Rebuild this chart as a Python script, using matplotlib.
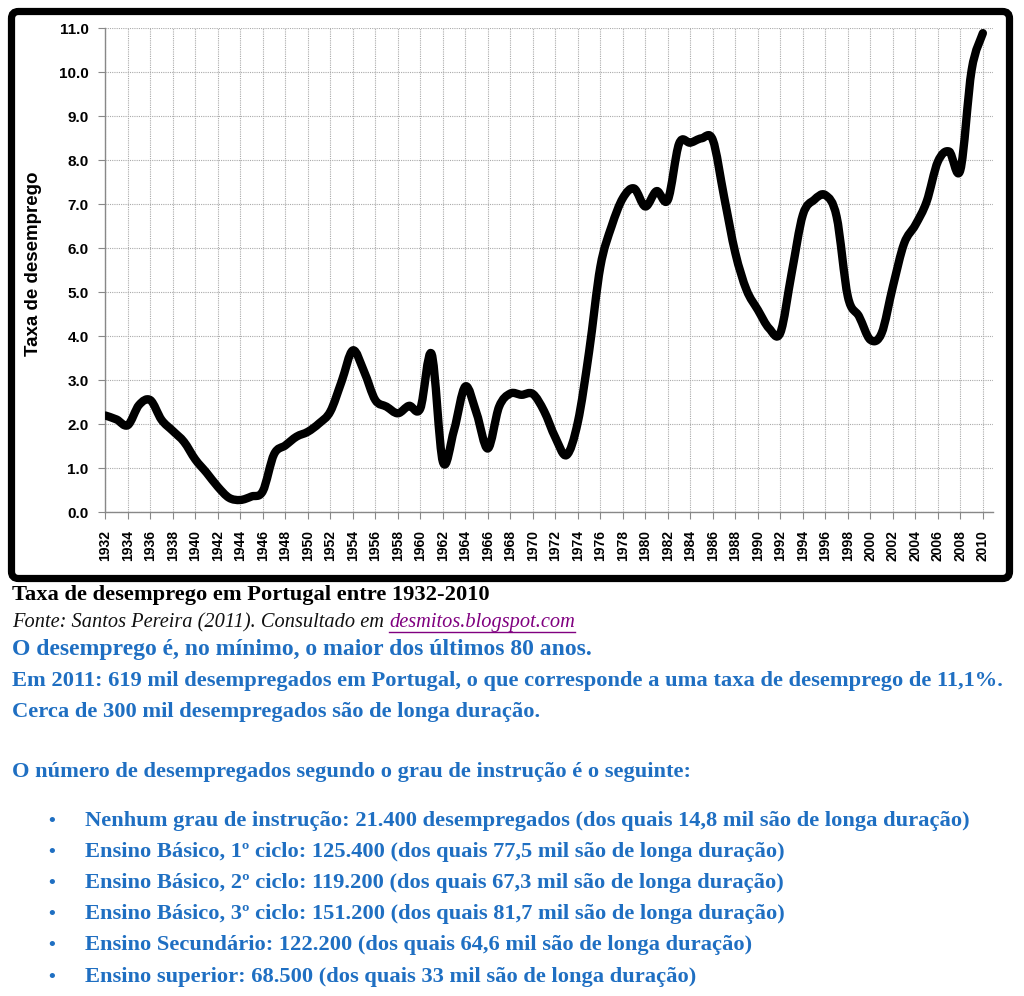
import numpy as np
import matplotlib
matplotlib.use("Agg")
import matplotlib.pyplot as plt
from matplotlib.patches import FancyBboxPatch, PathPatch
from matplotlib.path import Path
from matplotlib.lines import Line2D

# data (taxa de desemprego, %)
years = np.arange(1932, 2011)
taxa = [2.20, 2.11, 1.98, 2.44, 2.55, 2.10, 1.85, 1.60, 1.20, 0.90,
        0.58, 0.33, 0.28, 0.36, 0.48, 1.32, 1.52, 1.72, 1.83, 2.02,
        2.29, 2.97, 3.68, 3.20, 2.55, 2.40, 2.25, 2.42, 2.36, 3.60,
        1.15, 1.87, 2.86, 2.25, 1.45, 2.40, 2.70, 2.67, 2.69, 2.30,
        1.70, 1.30, 2.05, 3.65, 5.58, 6.50, 7.14, 7.36, 6.95, 7.30,
        7.10, 8.38, 8.40, 8.50, 8.46, 7.17, 5.89, 5.05, 4.60, 4.18,
        4.08, 5.43, 6.76, 7.10, 7.21, 6.72, 4.90, 4.45, 3.92, 4.07,
        5.13, 6.11, 6.53, 7.06, 7.97, 8.20, 7.78, 10.05, 10.89]
xticks = np.arange(1932, 2011, 2)
yticks = np.arange(0, 12, 1)

titulo = "Taxa de desemprego em Portugal entre 1932-2010"
fonte = "Fonte: Santos Pereira (2011). Consultado em "
link = "desmitos.blogspot.com"
linhas_azuis = ["O desemprego é, no mínimo, o maior dos últimos 80 anos.",
                "Em 2011: 619 mil desempregados em Portugal, o que corresponde a uma taxa de desemprego de 11,1%.",
                "Cerca de 300 mil desempregados são de longa duração."]
intro = "O número de desempregados segundo o grau de instrução é o seguinte:"
itens = ["Nenhum grau de instrução: 21.400 desempregados (dos quais 14,8 mil são de longa duração)",
         "Ensino Básico, 1º ciclo: 125.400 (dos quais 77,5 mil são de longa duração)",
         "Ensino Básico, 2º ciclo: 119.200 (dos quais 67,3 mil são de longa duração)",
         "Ensino Básico, 3º ciclo: 151.200 (dos quais 81,7 mil são de longa duração)",
         "Ensino Secundário: 122.200 (dos quais 64,6 mil são de longa duração)",
         "Ensino superior: 68.500 (dos quais 33 mil são de longa duração)"]

W, H = 1024, 996
azul = "#1f6fc2"
sans = ["Liberation Sans", "DejaVu Sans"]
serif = ["Liberation Serif", "DejaVu Serif"]

fig = plt.figure(figsize=(W / 100, H / 100), dpi=100)
fig.patch.set_facecolor("white")

# black frame round the chart
frame = FancyBboxPatch((11.5 / 100, (H - 578.5) / 100), 998 / 100, 567 / 100,
                       boxstyle="round,pad=0,rounding_size=0.07",
                       transform=fig.dpi_scale_trans, fill=False,
                       edgecolor="black", linewidth=5.2)
fig.patches.append(frame)

ax = fig.add_axes([105.3 / W, 1 - 512.3 / H, (993 - 105.3) / W, (512.3 - 28.3) / H])

# smoothed line like excel (catmull-rom bezier through the points)
pts = np.column_stack([years, taxa]).astype(float)
verts = [pts[0]]
codes = [Path.MOVETO]
n = len(pts)
for i in range(n - 1):
    p0 = pts[max(i - 1, 0)]
    p1 = pts[i]
    p2 = pts[i + 1]
    p3 = pts[min(i + 2, n - 1)]
    verts += [p1 + (p2 - p0) / 6, p2 - (p3 - p1) / 6, p2]
    codes += [Path.CURVE4] * 3
curve = PathPatch(Path(verts, codes), facecolor="none", edgecolor="black", lw=6,
                  capstyle="round", joinstyle="round", zorder=3)
ax.add_patch(curve)

ax.set_xlim(1932, 2010.9)
ax.set_ylim(0, 11)
ax.set_xticks(xticks)
ax.set_yticks(yticks)
ax.set_xticklabels([str(y) for y in xticks], rotation=90, fontsize=10, fontweight="bold", family=sans)
ax.set_yticklabels(["%.1f" % v for v in yticks], fontsize=11, fontweight="bold", family=sans)
ax.tick_params(axis="x", length=5, color="#888888", pad=8)
ax.tick_params(axis="y", length=5, color="#888888", pad=7)
ax.grid(True, color="#aaaaaa", linestyle=(0, (1, 1)), linewidth=0.8)
ax.set_axisbelow(True)
for s in ["top", "right"]:
    ax.spines[s].set_visible(False)
for s in ["left", "bottom"]:
    ax.spines[s].set_color("#888888")
    ax.spines[s].set_linewidth(1)
ax.set_ylabel("Taxa de desemprego", fontsize=13.5, fontweight="bold", family=sans)
ax.yaxis.set_label_coords(-(105.3 - 42) / (993 - 105.3), (512.3 - 264) / (512.3 - 28.3))


def fy(y):
    return 1 - y / H


fig.text(12 / W, fy(595), titulo, fontsize=16.2, fontweight="bold", family=serif, va="center", color="black")
t_fonte = fig.text(12 / W, fy(623), fonte, fontsize=14.7, style="italic", family=serif, va="center", color="#111111")

fig.canvas.draw()
r = fig.canvas.get_renderer()
bb = t_fonte.get_window_extent(r)
t_link = fig.text(bb.x1 / W, fy(623), link, fontsize=14.7, style="italic", family=serif, va="center", color="#800080")
fig.canvas.draw()
bl = t_link.get_window_extent(r)
uy = (H - 632) / H
fig.lines.append(Line2D([bl.x0 / W, bl.x1 / W], [uy, uy], transform=fig.transFigure, color="#800080", lw=1))

for txt, yc, fs in zip(linhas_azuis, [650, 681, 712], [17, 16.2, 16.2]):
    fig.text(12 / W, fy(yc), txt, fontsize=fs, fontweight="bold", family=serif, va="center", color=azul)
fig.text(12 / W, fy(772), intro, fontsize=16.2, fontweight="bold", family=serif, va="center", color=azul)

for txt, yc in zip(itens, [821, 852, 883, 914, 945, 977]):
    fig.text(52 / W, fy(yc), "•", fontsize=14, fontweight="bold", family=serif, va="center", ha="center", color=azul)
    fig.text(85 / W, fy(yc), txt, fontsize=16.2, fontweight="bold", family=serif, va="center", color=azul)

fig.savefig("out.png", dpi=100)
